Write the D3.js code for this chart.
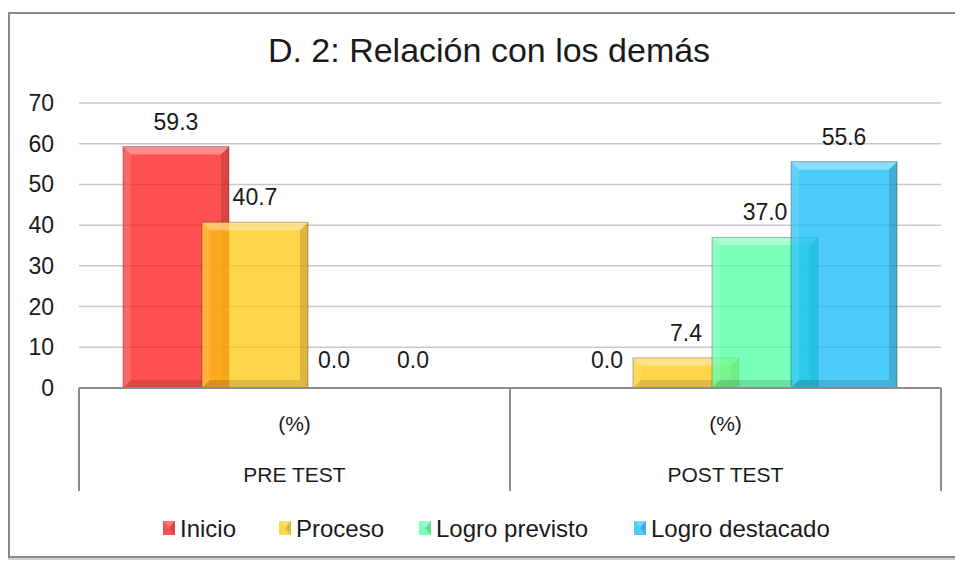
<!DOCTYPE html>
<html><head><meta charset="utf-8">
<script src="https://cdn.jsdelivr.net/npm/d3@7"></script>
<style>html,body{margin:0;padding:0;background:#fff;}svg{display:block;}text{font-family:"Liberation Sans",Arial,sans-serif;fill:#1a1a1a;}</style>
</head><body>
<svg id="c" width="955" height="562"></svg>
<script>
const title = "D. 2: Relación con los demás";
const categories = ["PRE TEST", "POST TEST"];
const subLabels = ["(%)", "(%)"];
const series = ["Inicio", "Proceso", "Logro previsto", "Logro destacado"];
const inicio = [59.3, 0.0];
const proceso = [40.7, 7.4];
const logroPrevisto = [0.0, 37.0];
const logroDestacado = [0.0, 55.6];
const yTicks = [0, 10, 20, 30, 40, 50, 60, 70];
const colors = ["rgb(255,22,22)", "rgb(255,199,14)", "rgb(78,255,160)", "rgb(18,186,248)"];
const values = [inicio, proceso, logroPrevisto, logroDestacado];

const svg = d3.select("#c");
const plot = {left: 79, right: 941, top: 103, bottom: 388};

// outer frame
svg.append("rect").attr("x", 10).attr("y", 14).attr("width", 960).attr("height", 544)
  .attr("fill", "none").attr("stroke", "#d0d0d0").attr("stroke-width", 4);
svg.append("rect").attr("x", 9).attr("y", 13).attr("width", 960).attr("height", 544)
  .attr("fill", "#fff").attr("stroke", "#8a8a8a").attr("stroke-width", 2);

svg.append("text").attr("x", 489).attr("y", 62).attr("text-anchor", "middle")
  .attr("font-size", 34).text(title);

const y = d3.scaleLinear().domain([0, 70]).range([plot.bottom, plot.top]);
const x = d3.scaleBand().domain(categories).range([plot.left, plot.right]).padding(0);
const bw = x.bandwidth();
const sx = d3.scalePoint().domain(series).range([-0.275 * bw, 0.275 * bw]);
const barW = 0.246 * bw;

// gridlines
svg.append("g").selectAll("line").data(yTicks.filter(t => t > 0)).join("line")
  .attr("x1", plot.left).attr("x2", plot.right)
  .attr("y1", d => y(d)).attr("y2", d => y(d))
  .attr("stroke", "#c8c8c8").attr("stroke-width", 1.5);

// y labels
svg.append("g").selectAll("text").data(yTicks).join("text")
  .attr("x", 54).attr("y", d => y(d) + 8).attr("text-anchor", "end")
  .attr("font-size", 23).text(d => d);

// bars
const g = svg.append("g");
series.forEach((s, si) => {
  categories.forEach((c, ci) => {
    const v = values[si][ci];
    if (v <= 0) return;
    const cx = x(c) + bw / 2 + sx(s);
    const x0 = cx - barW / 2, x1 = cx + barW / 2;
    const y0 = y(v), y1 = y(0);
    const b = Math.min(8, (y1 - y0) / 2);
    const bg = g.append("g");
    bg.append("rect").attr("x", x0).attr("y", y0).attr("width", x1 - x0).attr("height", y1 - y0)
      .attr("fill", colors[si]).attr("fill-opacity", 0.75);
    const poly = (pts, fill, op) => bg.append("polygon").attr("points", pts.map(p => p.join(",")).join(" "))
      .attr("fill", fill).attr("fill-opacity", op);
    poly([[x0, y0], [x1, y0], [x1 - b, y0 + b], [x0 + b, y0 + b]], "#fff", 0.35);
    poly([[x0, y0], [x0 + b, y0 + b], [x0 + b, y1 - b], [x0, y1]], "#fff", 0.12);
    poly([[x1, y0], [x1, y1], [x1 - b, y1 - b], [x1 - b, y0 + b]], "#000", 0.14);
    poly([[x0, y1], [x0 + b, y1 - b], [x1 - b, y1 - b], [x1, y1]], "#000", 0.12);
    bg.append("rect").attr("x", x0).attr("y", y0).attr("width", x1 - x0).attr("height", y1 - y0)
      .attr("fill", "none").attr("stroke", "#000").attr("stroke-opacity", 0.28).attr("stroke-width", 1);
  });
});

// data labels
series.forEach((s, si) => {
  categories.forEach((c, ci) => {
    const v = values[si][ci];
    const cx = x(c) + bw / 2 + sx(s);
    svg.append("text").attr("x", cx).attr("y", y(v) - (v > 0 ? 17 : 20))
      .attr("text-anchor", "middle").attr("font-size", 23).text(v.toFixed(1));
  });
});

// category axis
svg.append("line").attr("x1", plot.left).attr("x2", plot.right).attr("y1", plot.bottom).attr("y2", plot.bottom)
  .attr("stroke", "#8c8c8c").attr("stroke-width", 2);
const edges = [plot.left, ...categories.map(c => x(c) + bw)];
svg.append("g").selectAll("line").data(edges).join("line")
  .attr("x1", d => d).attr("x2", d => d).attr("y1", plot.bottom).attr("y2", 491)
  .attr("stroke", "#8c8c8c").attr("stroke-width", 2);
svg.append("g").selectAll("text").data(categories).join("text")
  .attr("x", d => x(d) + bw / 2).attr("y", 431).attr("text-anchor", "middle")
  .attr("font-size", 21).text((d, i) => subLabels[i]);
svg.append("g").selectAll("text").data(categories).join("text")
  .attr("x", d => x(d) + bw / 2).attr("y", 482).attr("text-anchor", "middle")
  .attr("font-size", 21).text(d => d);

// legend
const legX = [163, 279, 419, 634];
series.forEach((s, si) => {
  const lg = svg.append("g").attr("transform", `translate(${legX[si]},521)`);
  lg.append("rect").attr("width", 12).attr("height", 14).attr("fill", colors[si]).attr("fill-opacity", 0.75);
  lg.append("polygon").attr("points", "0,0 12,0 6,7").attr("fill", "#fff").attr("fill-opacity", 0.2);
  lg.append("polygon").attr("points", "12,0 12,14 6,7").attr("fill", "#000").attr("fill-opacity", 0.15);
  lg.append("text").attr("x", 17).attr("y", 16).attr("font-size", 24).text(s);
});
</script>
</body></html>
